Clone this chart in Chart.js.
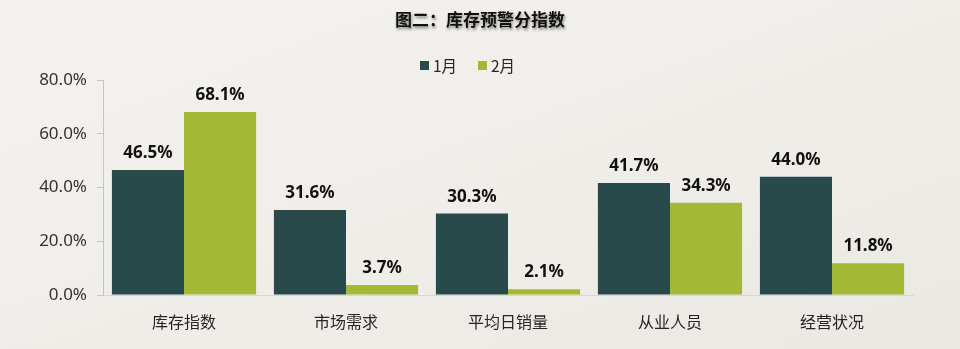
<!DOCTYPE html>
<html>
<head>
<meta charset="utf-8">
<script src="https://cdn.jsdelivr.net/npm/chart.js@4"></script>
<style>
  html, body { margin: 0; padding: 0; }
  body { width: 960px; height: 349px; background: linear-gradient(160deg, #f3f2ee 0%, #eeede8 60%, #e9e8e2 100%); }
  #wrap { width: 960px; height: 349px; position: relative; }
</style>
</head>
<body>
<div id="wrap"><canvas id="myChart"></canvas></div>
<script>
var title = '图二：库存预警分指数';
var categories = ['库存指数', '市场需求', '平均日销量', '从业人员', '经营状况'];
var seriesNames = ['1月', '2月'];
var janValues = [46.5, 31.6, 30.3, 41.7, 44.0];
var febValues = [68.1, 3.7, 2.1, 34.3, 11.8];
var yTicks = [0, 20, 40, 60, 80];

var colors = ['#294a4a', '#a3b834'];
var cjk = '"Noto Sans CJK SC", "Noto Sans", sans-serif';

// title + legend drawn by hand, values above bars
var decor = {
    id: 'decor',
    afterDraw: function (chart) {
        var ctx = chart.ctx;
        ctx.save();
        ctx.font = 'bold 17px ' + cjk;
        ctx.textAlign = 'center';
        ctx.textBaseline = 'middle';
        ctx.fillStyle = '#111';
        ctx.shadowColor = 'rgba(0,0,0,0.45)';
        ctx.shadowBlur = 3;
        ctx.shadowOffsetX = 1;
        ctx.shadowOffsetY = 2;
        ctx.fillText(title, 480, 20);
        ctx.restore();

        ctx.save();
        ctx.font = '15.5px ' + cjk;
        ctx.textBaseline = 'middle';
        var lx = [420, 478];
        for (var i = 0; i < seriesNames.length; i++) {
            ctx.fillStyle = colors[i];
            ctx.fillRect(lx[i], 61, 9, 9);
            ctx.fillStyle = '#262626';
            ctx.fillText(seriesNames[i], lx[i] + 13, 66);
        }
        ctx.restore();

        ctx.save();
        ctx.font = 'bold 17px "Noto Sans", sans-serif';
        ctx.textAlign = 'center';
        ctx.textBaseline = 'alphabetic';
        ctx.fillStyle = '#111';
        chart.data.datasets.forEach(function (ds, di) {
            chart.getDatasetMeta(di).data.forEach(function (bar, j) {
                ctx.fillText(ds.data[j].toFixed(1) + '%', bar.x, bar.y - 12);
            });
        });
        ctx.restore();
    }
};

var ctx = document.getElementById('myChart').getContext('2d');
var myChart = new Chart(ctx, {
    type: 'bar',
    data: {
        labels: categories,
        datasets: [{
            label: seriesNames[0],
            data: janValues,
            backgroundColor: colors[0]
        }, {
            label: seriesNames[1],
            data: febValues,
            backgroundColor: colors[1]
        }]
    },
    options: {
        responsive: true,
        maintainAspectRatio: false,
        animation: false,
        layout: { padding: { top: 80, right: 47, bottom: 0, left: 0 } },
        plugins: {
            legend: { display: false },
            title: { display: false },
            tooltip: { enabled: false }
        },
        datasets: {
            bar: { categoryPercentage: 0.89, barPercentage: 1.0 }
        },
        scales: {
            x: {
                grid: { display: true, drawOnChartArea: false, drawTicks: false },
                border: { display: true, color: '#d6d6d2', width: 1 },
                ticks: {
                    color: '#262626',
                    padding: 17,
                    font: { size: 16, family: cjk }
                },
                afterFit: function (s) { s.height = 54; }
            },
            y: {
                min: 0,
                max: 80,
                afterBuildTicks: function (s) {
                    s.ticks = yTicks.map(function (v) { return { value: v }; });
                },
                grid: { display: true, drawOnChartArea: false, drawTicks: true, tickLength: 6, color: '#c4c4c0' },
                border: { display: true, color: '#c4c4c0', width: 1 },
                ticks: {
                    color: '#333',
                    padding: 10,
                    font: { size: 17, family: '"Noto Sans", sans-serif' },
                    callback: function (v) { return v.toFixed(1) + '%'; }
                },
                afterFit: function (s) { s.width = 103; }
            }
        }
    },
    plugins: [decor]
});
</script>
</body>
</html>
